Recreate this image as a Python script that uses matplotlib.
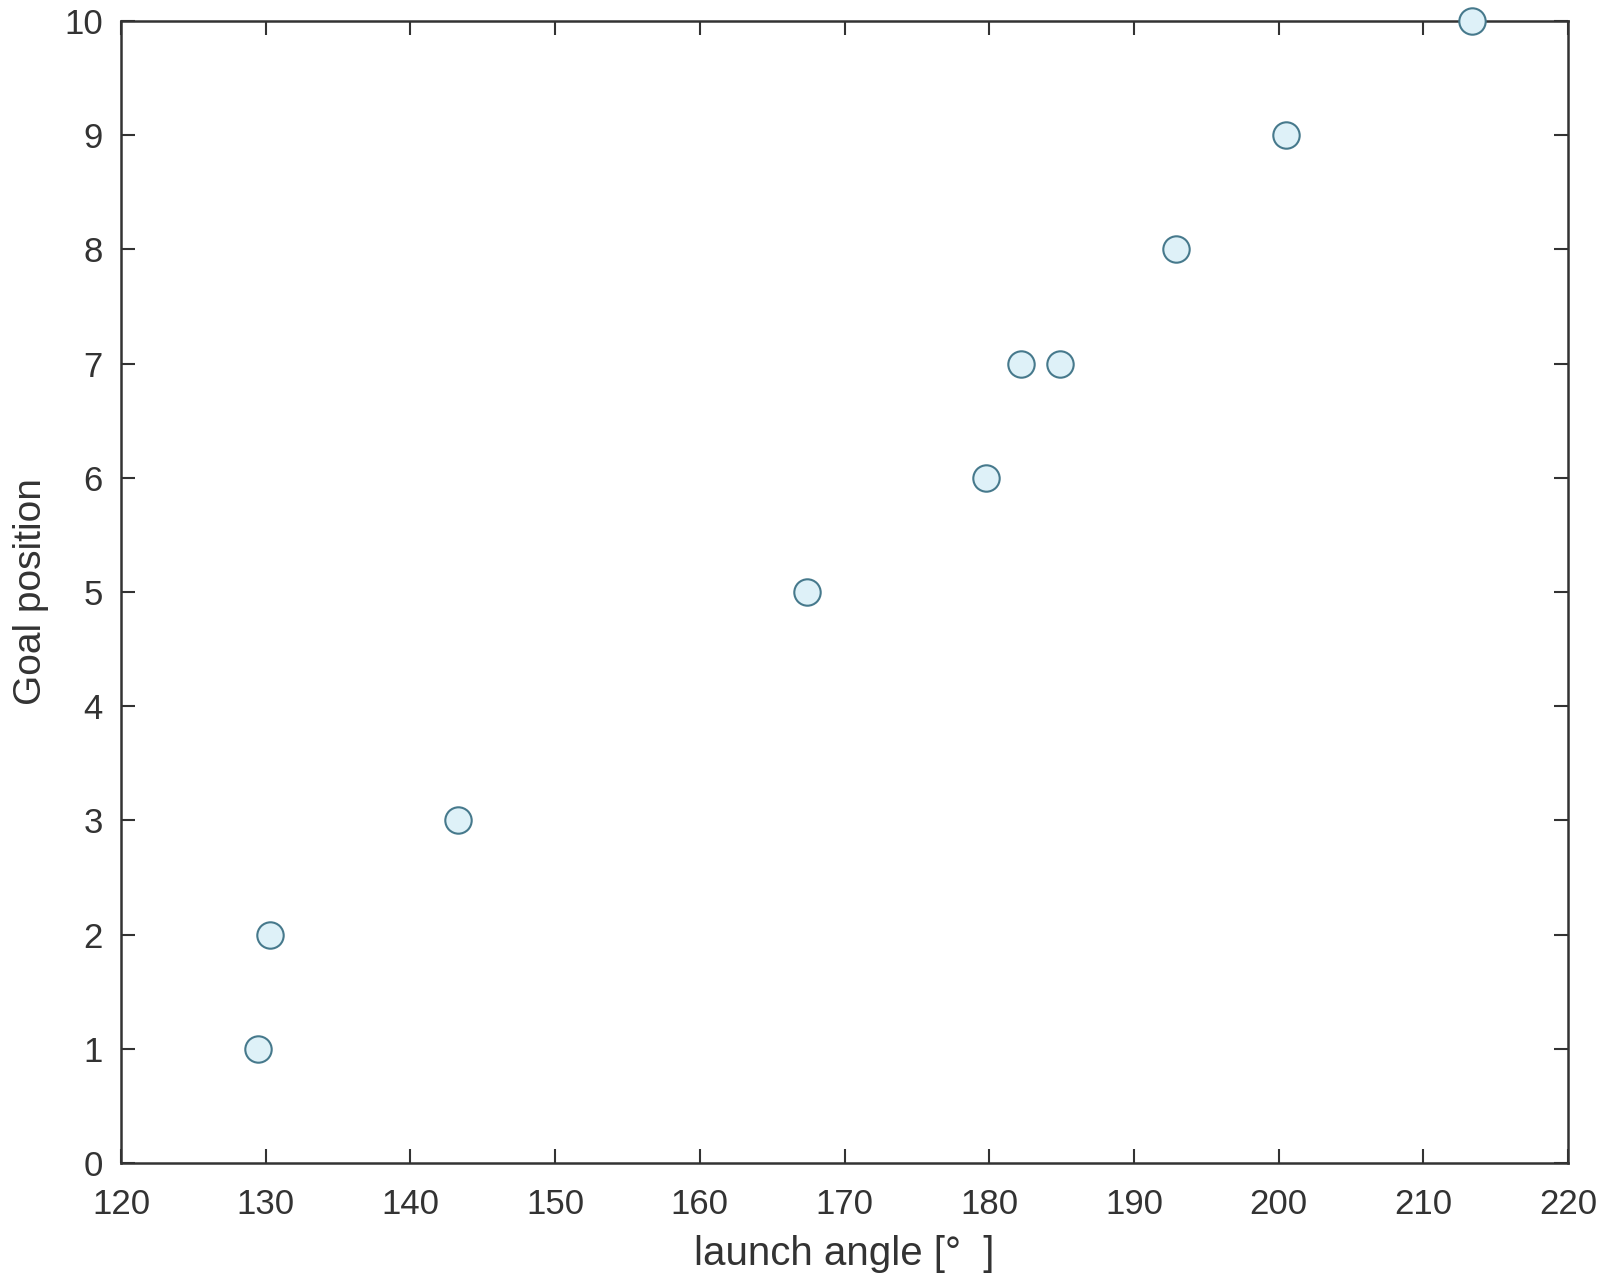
import matplotlib.pyplot as plt

# launch angle [deg] vs goal position
angle = [129.5, 130.3, 143.3, 167.4, 179.8, 182.2, 184.9, 192.9, 200.5, 213.4]
goal = [1, 2, 3, 5, 6, 7, 7, 8, 9, 10]

xticks = [120, 130, 140, 150, 160, 170, 180, 190, 200, 210, 220]
yticks = [0, 1, 2, 3, 4, 5, 6, 7, 8, 9, 10]

plt.rcParams['font.family'] = ['Liberation Sans', 'DejaVu Sans']

fig = plt.figure(figsize=(16, 12.81), dpi=100)
ax = fig.add_axes([121/1600, 1 - 1163/1281, (1568-121)/1600, (1163-21)/1281])

ax.plot(angle, goal, 'o', ms=19, mew=1.5, mec='#46798c', mfc='#def1f8',
        clip_on=False, zorder=3)

ax.set_xlim(120, 220)
ax.set_ylim(0, 10)
ax.set_xticks(xticks)
ax.set_yticks(yticks)

for s in ax.spines.values():
    s.set_linewidth(1.8)
    s.set_color('#333333')

ax.tick_params(direction='in', length=10, width=1.5, color='#333333',
               top=True, right=True, labelsize=25, labelcolor='#333333')
ax.tick_params(axis='x', pad=18)
ax.tick_params(axis='y', pad=13)

ax.set_xlabel('launch angle [°  ]', fontsize=29, color='#333333', labelpad=10)
ax.set_ylabel('Goal position', fontsize=28, color='#333333', labelpad=11)

fig.savefig('out.png', dpi=100)
